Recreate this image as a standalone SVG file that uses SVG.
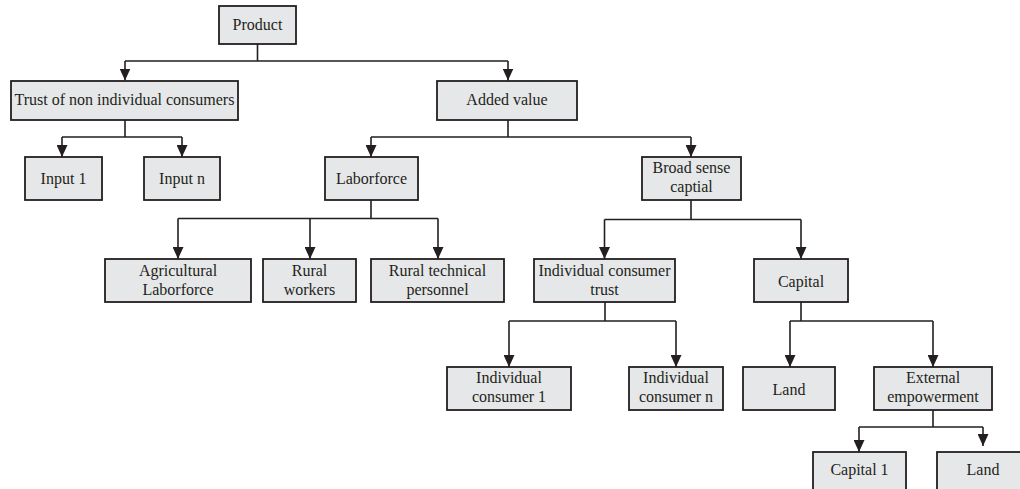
<svg xmlns="http://www.w3.org/2000/svg" width="1020" height="489" viewBox="0 0 1020 489">
<defs>
<style>
.box{fill:#e6e7e8;stroke:#231f20;stroke-width:1.8}
.lbl{font-family:"Liberation Serif","Times New Roman",serif;font-size:16px;fill:#231f20;text-anchor:middle}
.con{fill:none;stroke:#231f20;stroke-width:1.6}
</style>
<marker id="arrd" markerUnits="userSpaceOnUse" markerWidth="12" markerHeight="11" refX="12" refY="5.5" orient="auto" viewBox="0 0 12 11">
<path d="M0,0 L12,5.5 L0,11 Z" fill="#231f20"/>
</marker>
</defs>
<rect width="1020" height="489" fill="#ffffff"/>
<g id="connectors">
<path class="con" d="M257.5,44 V61 M125,61 H508"/>
<path class="con" d="M125,61 V80.5" marker-end="url(#arrd)"/>
<path class="con" d="M508,61 V80.5" marker-end="url(#arrd)"/>
<path class="con" d="M125,120 V137 M62,137 H182"/>
<path class="con" d="M62,137 V157" marker-end="url(#arrd)"/>
<path class="con" d="M182,137 V157" marker-end="url(#arrd)"/>
<path class="con" d="M508,120 V137 M371,137 H691"/>
<path class="con" d="M371,137 V157" marker-end="url(#arrd)"/>
<path class="con" d="M691,137 V157" marker-end="url(#arrd)"/>
<path class="con" d="M371,200 V218.5 M178,218.5 H438"/>
<path class="con" d="M178,218.5 V259" marker-end="url(#arrd)"/>
<path class="con" d="M310,218.5 V259" marker-end="url(#arrd)"/>
<path class="con" d="M438,218.5 V259" marker-end="url(#arrd)"/>
<path class="con" d="M691,200 V219.5 M604.5,219.5 H801"/>
<path class="con" d="M604.5,219.5 V259" marker-end="url(#arrd)"/>
<path class="con" d="M801,219.5 V259" marker-end="url(#arrd)"/>
<path class="con" d="M605,302 V321 M509,321 H676"/>
<path class="con" d="M509,321 V367" marker-end="url(#arrd)"/>
<path class="con" d="M676,321 V367" marker-end="url(#arrd)"/>
<path class="con" d="M801,302 V321 M790,321 H933"/>
<path class="con" d="M790,321 V367" marker-end="url(#arrd)"/>
<path class="con" d="M933,321 V367" marker-end="url(#arrd)"/>
<path class="con" d="M933,410 V427 M859,427 H983"/>
<path class="con" d="M859,427 V452" marker-end="url(#arrd)"/>
<path class="con" d="M983,427 V446" marker-end="url(#arrd)"/>
</g>
<g id="product"><rect class="box" x="219" y="6" width="77" height="38"/><text class="lbl" x="257.5" y="30">Product</text></g>
<g id="trust-non-individual"><rect class="box" x="11" y="81" width="227" height="39"/><text class="lbl" x="124.5" y="105">Trust of non individual consumers</text></g>
<g id="added-value"><rect class="box" x="437" y="81" width="140" height="39"/><text class="lbl" x="507" y="105">Added value</text></g>
<g id="input-1"><rect class="box" x="25" y="157" width="77" height="43"/><text class="lbl" x="63.5" y="184">Input 1</text></g>
<g id="input-n"><rect class="box" x="144" y="157" width="76" height="43"/><text class="lbl" x="182" y="184">Input n</text></g>
<g id="laborforce"><rect class="box" x="325" y="157" width="93" height="43"/><text class="lbl" x="371.5" y="184">Laborforce</text></g>
<g id="broad-sense-capital"><rect class="box" x="642" y="157" width="99" height="43"/><text class="lbl" x="691.5" y="173">Broad sense</text><text class="lbl" x="691.5" y="192">captial</text></g>
<g id="agricultural-laborforce"><rect class="box" x="105" y="259" width="146" height="43"/><text class="lbl" x="178" y="275.5">Agricultural</text><text class="lbl" x="178" y="294.5">Laborforce</text></g>
<g id="rural-workers"><rect class="box" x="263" y="259" width="93" height="43"/><text class="lbl" x="309.5" y="275.5">Rural</text><text class="lbl" x="309.5" y="294.5">workers</text></g>
<g id="rural-technical-personnel"><rect class="box" x="371" y="259" width="133" height="43"/><text class="lbl" x="437.5" y="275.5">Rural technical</text><text class="lbl" x="437.5" y="294.5">personnel</text></g>
<g id="individual-consumer-trust"><rect class="box" x="534" y="259" width="141" height="43"/><text class="lbl" x="604.5" y="275.5">Individual consumer</text><text class="lbl" x="604.5" y="294.5">trust</text></g>
<g id="capital"><rect class="box" x="754" y="259" width="94" height="43"/><text class="lbl" x="801" y="286.5">Capital</text></g>
<g id="individual-consumer-1"><rect class="box" x="447" y="367" width="124" height="43"/><text class="lbl" x="509" y="383">Individual</text><text class="lbl" x="509" y="402">consumer 1</text></g>
<g id="individual-consumer-n"><rect class="box" x="629" y="367" width="94" height="43"/><text class="lbl" x="676" y="383">Individual</text><text class="lbl" x="676" y="402">consumer n</text></g>
<g id="land"><rect class="box" x="743" y="367" width="92" height="43"/><text class="lbl" x="789" y="394.5">Land</text></g>
<g id="external-empowerment"><rect class="box" x="874" y="367" width="118" height="43"/><text class="lbl" x="933" y="383">External</text><text class="lbl" x="933" y="402">empowerment</text></g>
<g id="capital-1"><rect class="box" x="813" y="452" width="93" height="50"/><text class="lbl" x="859.5" y="475">Capital 1</text></g>
<g id="land-2"><rect class="box" x="937" y="452" width="95" height="50"/><text class="lbl" x="983" y="475">Land</text></g>
</svg>
